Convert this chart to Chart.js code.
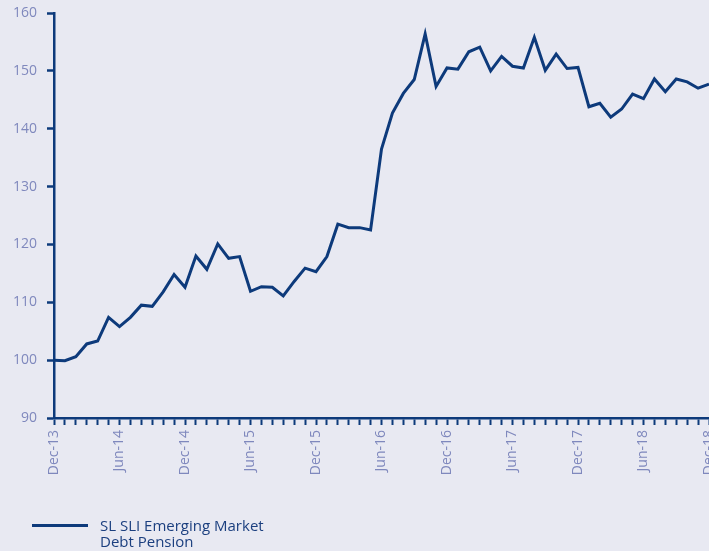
<!DOCTYPE html>
<html>
<head>
<meta charset="utf-8">
<script src="https://cdn.jsdelivr.net/npm/chart.js@4/dist/chart.umd.min.js"></script>
<style>
  html, body { margin: 0; padding: 0; background: #E8E9F2; overflow: hidden; width: 709px; height: 551px; }
  #wrap { position: relative; width: 720px; height: 551px; }
  #legend { position: absolute; left: 32px; top: 517px; font-family: "Open Sans", sans-serif; font-size: 15px; line-height: 16px; color: #1B3F7F; }
  #legend .swatch { position: absolute; left: 0; top: 7px; width: 56px; height: 3px; background: #0D3A7B; }
  #legend .txt { position: absolute; left: 68px; top: 0; white-space: nowrap; }
</style>
</head>
<body>
<div id="wrap">
  <canvas id="c" width="720" height="551"></canvas>
  <div id="legend"><div class="swatch"></div><div class="txt">SL SLI Emerging Market<br>Debt Pension</div></div>
</div>
<script>
const months = [
  'Dec-13','Jan-14','Feb-14','Mar-14','Apr-14','May-14','Jun-14','Jul-14','Aug-14','Sep-14','Oct-14','Nov-14',
  'Dec-14','Jan-15','Feb-15','Mar-15','Apr-15','May-15','Jun-15','Jul-15','Aug-15','Sep-15','Oct-15','Nov-15',
  'Dec-15','Jan-16','Feb-16','Mar-16','Apr-16','May-16','Jun-16','Jul-16','Aug-16','Sep-16','Oct-16','Nov-16',
  'Dec-16','Jan-17','Feb-17','Mar-17','Apr-17','May-17','Jun-17','Jul-17','Aug-17','Sep-17','Oct-17','Nov-17',
  'Dec-17','Jan-18','Feb-18','Mar-18','Apr-18','May-18','Jun-18','Jul-18','Aug-18','Sep-18','Oct-18','Nov-18',
  'Dec-18'
];
const tickLabels = ['Dec-13','Jun-14','Dec-14','Jun-15','Dec-15','Jun-16','Dec-16','Jun-17','Dec-17','Jun-18','Dec-18'];
const seriesName = 'SL SLI Emerging Market Debt Pension';
const values = [
  100.0, 99.9, 100.6, 102.8, 103.3, 107.4, 105.8, 107.4, 109.5, 109.3, 111.8, 114.8,
  112.6, 118.0, 115.7, 120.1, 117.6, 117.9, 111.9, 112.7, 112.6, 111.1, 113.6, 115.9,
  115.3, 117.9, 123.5, 122.9, 122.9, 122.5, 136.5, 142.7, 146.1, 148.5, 156.4, 147.3,
  150.5, 150.3, 153.3, 154.1, 150.0, 152.5, 150.8, 150.5, 155.8, 150.1, 152.9, 150.4,
  150.6, 143.8, 144.4, 142.0, 143.4, 146.0, 145.2, 148.6, 146.4, 148.6, 148.1, 147.0,
  147.7
];
const yMin = 90, yMax = 160, yStep = 10;

const navy = '#0D3A7B';
const tickColor = '#7F88BD';
const fontFamily = '"Open Sans", sans-serif';

function noScalePadding(s) { s.paddingLeft = 0; s.paddingRight = 0; s.paddingTop = 0; s.paddingBottom = 0; }

new Chart(document.getElementById('c'), {
  type: 'line',
  data: {
    labels: months,
    datasets: [{
      label: seriesName,
      data: values,
      borderColor: navy,
      borderWidth: 3,
      pointRadius: 0,
      tension: 0,
      fill: false
    }]
  },
  options: {
    responsive: false,
    animation: false,
    events: [],
    layout: { padding: { top: 13, right: 11, bottom: 73, left: 0 } },
    plugins: { legend: { display: false }, tooltip: { enabled: false } },
    scales: {
      x: {
        type: 'category',
        offset: false,
        border: { display: true, color: navy, width: 2.5 },
        grid: { drawOnChartArea: false, drawTicks: true, tickLength: 7, tickColor: navy, tickWidth: 2 },
        ticks: {
          autoSkip: false,
          minRotation: 90,
          maxRotation: 90,
          padding: 5,
          color: tickColor,
          font: { family: fontFamily, size: 14 },
          callback: function(v, i) { const l = months[i]; return tickLabels.includes(l) ? l : ''; }
        },
        afterFit: function(s) { s.height = 60; noScalePadding(s); }
      },
      y: {
        min: yMin,
        max: yMax,
        border: { display: true, color: navy, width: 2.5 },
        grid: { drawOnChartArea: false, drawTicks: true, tickLength: 7, tickColor: navy, tickWidth: 2.5 },
        ticks: {
          stepSize: yStep,
          padding: 10,
          color: tickColor,
          font: { family: fontFamily, size: 14 }
        },
        afterFit: function(s) { s.width = 54; noScalePadding(s); }
      }
    }
  }
});
</script>
</body>
</html>
